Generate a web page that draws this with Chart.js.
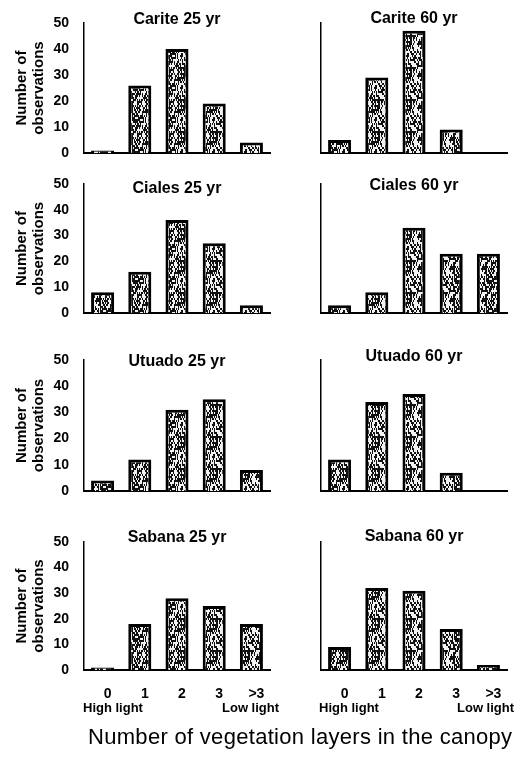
<!DOCTYPE html>
<html><head><meta charset="utf-8">
<script src="https://cdn.jsdelivr.net/npm/chart.js@4"></script>
<style>
html,body{margin:0;padding:0;background:#fff;width:514px;height:758px;overflow:hidden;position:relative;font-family:'Liberation Sans',Arial,sans-serif;}
canvas{position:absolute;}
.lbl{position:absolute;white-space:nowrap;color:#000;}
</style></head><body>
<script>
// ---- data ----
const categories = ['0', '1', '2', '3', '>3'];
const yTickValues = [0, 10, 20, 30, 40, 50];
const panelTitles = ['Carite 25 yr', 'Carite 60 yr', 'Ciales 25 yr', 'Ciales 60 yr',
                     'Utuado 25 yr', 'Utuado 60 yr', 'Sabana 25 yr', 'Sabana 60 yr'];
const carite25 = [1, 26, 40, 19, 4];
const carite60 = [5, 29, 47, 9, 0];
const ciales25 = [8, 16, 36, 27, 3];
const ciales60 = [3, 8, 33, 23, 23];
const utuado25 = [4, 12, 31, 35, 8];
const utuado60 = [12, 34, 37, 7, 0];
const sabana25 = [1, 18, 28, 25, 18];
const sabana60 = [9, 32, 31, 16, 2];
const seriesList = [carite25, carite60, ciales25, ciales60, utuado25, utuado60, sabana25, sabana60];
const lightLabels = ['High light', 'Low light'];
const yAxisTitle = ['Number of', 'observations'];
const xAxisTitle = 'Number of vegetation layers in the canopy';

// ---- layout ----
const FONT = "'Liberation Sans', Arial, sans-serif";
const rows = [
  {top: 23, bottom: 153, titleY: [20, 18.5], dotted: false},
  {top: 184, bottom: 313, titleY: [189, 186], dotted: false},
  {top: 360, bottom: 491, titleY: [361.5, 356.5], dotted: false},
  {top: 542, bottom: 670, titleY: [537.5, 536.5], dotted: true}
];
const cols = [
  {canvasLeft: 0, width: 276, areaLeft: 84, areaRight: 270},
  {canvasLeft: 290, width: 224, areaLeft: 321, areaRight: 507}
];

// deterministic stipple texture (style only)
function hash2(x, y) {
  let h = (Math.imul(x, 374761393) + Math.imul(y, 668265263)) | 0;
  h = Math.imul(h ^ (h >>> 13), 1274126177);
  h = h ^ (h >>> 16);
  return (h >>> 0) / 4294967296;
}
function makeStipple(ctx) {
  const N = 32;
  const c = document.createElement('canvas');
  c.width = N; c.height = N;
  const g = c.getContext('2d');
  g.fillStyle = '#f2f2f2';
  g.fillRect(0, 0, N, N);
  g.fillStyle = '#111';
  for (let y = 0; y < N; y++) {
    for (let x = 0; x < N; x++) {
      if (hash2(x, y >> 1) < 0.52) g.fillRect(x, y, 1, 1);
    }
  }
  return ctx.createPattern(c, 'repeat');
}

const titlePlugin = {
  id: 'panelTitle',
  afterDraw(chart, args, opts) {
    const {ctx, chartArea} = chart;
    ctx.save();
    ctx.font = 'bold 16px ' + FONT;
    ctx.fillStyle = '#000';
    ctx.textAlign = 'center';
    ctx.textBaseline = 'middle';
    ctx.fillText(opts.text, (chartArea.left + chartArea.right) / 2, opts.y);
    ctx.restore();
  }
};

rows.forEach((row, r) => {
  cols.forEach((col, c) => {
    const idx = r * 2 + c;
    const isLast = r === rows.length - 1;
    const isLeft = c === 0;
    const canvasTop = row.top - 22;
    const canvasBottom = row.bottom + (isLast ? 32 : 16);
    const cv = document.createElement('canvas');
    cv.width = col.width;
    cv.height = canvasBottom - canvasTop;
    cv.style.left = col.canvasLeft + 'px';
    cv.style.top = canvasTop + 'px';
    document.body.appendChild(cv);
    const ctx = cv.getContext('2d');
    const yW = col.areaLeft - col.canvasLeft;
    const xH = canvasBottom - row.bottom;
    new Chart(ctx, {
      type: 'bar',
      data: {
        labels: categories,
        datasets: [{
          data: seriesList[idx],
          backgroundColor: makeStipple(ctx),
          borderColor: '#000',
          borderWidth: 3,
          borderSkipped: 'bottom',
          barPercentage: 0.62,
          categoryPercentage: 1
        }]
      },
      options: {
        responsive: false,
        animation: false,
        devicePixelRatio: 1,
        layout: {padding: {top: 22, left: 0, bottom: 0, right: col.width - (col.areaRight - col.canvasLeft)}},
        plugins: {
          legend: {display: false},
          tooltip: {enabled: false},
          title: {display: false},
          panelTitle: {text: panelTitles[idx], y: row.titleY[c] - canvasTop}
        },
        scales: {
          x: {
            grid: {display: false},
            border: {display: true, color: '#000', width: 2},
            ticks: {
              display: isLast,
              color: '#000',
              padding: 8,
              labelOffset: 5,
              font: {family: FONT, size: 14, weight: 'bold'}
            },
            afterFit(scale) { scale.height = xH; }
          },
          y: {
            min: yTickValues[0],
            max: yTickValues[yTickValues.length - 1],
            afterBuildTicks(scale) { scale.ticks = yTickValues.map(v => ({value: v})); },
            grid: {display: false},
            border: {display: true, color: '#000', width: 1.5, dash: row.dotted ? [2, 3] : []},
            ticks: {
              display: isLeft,
              color: '#000',
              padding: 7,
              font: {family: FONT, size: 14, weight: 'bold'}
            },
            title: {
              display: isLeft,
              text: yAxisTitle,
              color: '#000',
              padding: {top: 14, bottom: 0},
              font: {family: FONT, size: 15, weight: 'bold', lineHeight: 1.1}
            },
            afterFit(scale) { scale.width = yW; }
          }
        }
      },
      plugins: [titlePlugin]
    });
  });
});

function addLabel(text, left, centerY, css) {
  const d = document.createElement('div');
  d.className = 'lbl';
  d.textContent = text;
  d.style.left = left + 'px';
  d.style.top = (centerY - 10) + 'px';
  d.style.cssText += css;
  document.body.appendChild(d);
}
const lightCss = "font: bold 13px " + FONT + "; line-height:20px;";
addLabel(lightLabels[0], 83, 708, lightCss);
addLabel(lightLabels[1], 222, 708, lightCss);
addLabel(lightLabels[0], 319, 708, lightCss);
addLabel(lightLabels[1], 457, 708, lightCss);
addLabel(xAxisTitle, 88, 737, "font: 22px " + FONT + "; line-height:20px; letter-spacing:0.3px;");
</script>
</body></html>
